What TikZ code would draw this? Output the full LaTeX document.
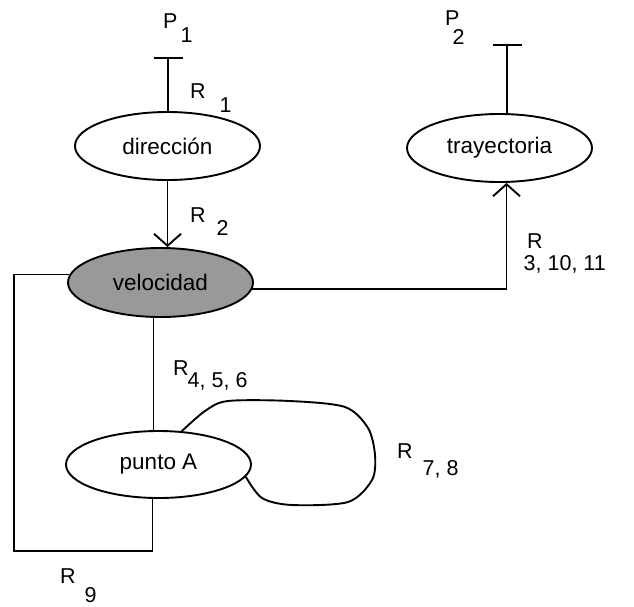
\documentclass[tikz,border=0pt]{standalone}
\usepackage{fontspec}
\setmainfont{Liberation Sans}
\usetikzlibrary{positioning, arrows.meta, shapes.geometric}
\definecolor{vcolor}{gray}{0.6}

\begin{document}
\begin{tikzpicture}[x=1pt, y=-1pt,
    state/.style={ellipse, draw, minimum width=185pt, minimum height=68pt, inner sep=0pt, font=\fontsize{22.5}{26}\selectfont, line width=1.9pt},
    arr/.style={-{Straight Barb[length=12pt, width=27pt]}, line width=1.9pt},
    line/.style={line width=1.9pt},
    bar/.style={{Bar[width=29pt]}-, line width=1.9pt},
    lbl/.style={anchor=base west, inner sep=0pt, font=\fontsize{21.5}{24}\selectfont},
  ]
    \useasboundingbox (0,0) rectangle (634,606);

    \node[state] (dir) at (167.5,146) {dirección};
    \node[state, fill=vcolor, minimum height=69pt] (vel) at (160.5,282.5) {velocidad};
    \node[state] (traj) at (499.5,148) {trayectoria};
    \node[state, minimum height=67pt] (ptA) at (158.5,464.5) {punto A};

    \coordinate (p1end) at (168,57);
    \coordinate (p2end) at (507,44);
    \coordinate (c9) at (14,551);

    \node[lbl] (p1) at (163,28) {P\hspace{3pt}\raisebox{-14pt}{1}};
    \node[lbl] (p2) at (445,25) {P\hspace{-7pt}\raisebox{-19pt}{2}};
    \node[lbl] (r1) at (190,98) {R\hspace{14pt}\raisebox{-14pt}{1}};
    \node[lbl] (r2) at (190,222) {R\hspace{11pt}\raisebox{-13pt}{2}};
    \node[lbl] (r3) at (527,248) {R\hspace{-19pt}\raisebox{-22pt}{3, 10, 11}};
    \node[lbl] (r4) at (173,375) {R\hspace{-1pt}\raisebox{-12pt}{4, 5, 6}};
    \node[lbl] (r7) at (397,458) {R\hspace{10pt}\raisebox{-17pt}{7, 8}};
    \node[lbl] (r9) at (60,583) {R\hspace{9pt}\raisebox{-19pt}{9}};

    \draw[bar] (p1end) -- (p1end |- dir.north);
    \draw[bar] (p2end) -- (p2end |- traj.north);
    \draw[arr] (dir.south) -- (dir.south |- vel.north);
    \draw[arr] (vel.-4) -| ([xshift=7pt]traj.south);
    \draw[line] ([xshift=-7pt]vel.south) -- ([xshift=-7pt]vel.south |- ptA.north);
    \draw[line] (vel.175) -| (c9) -| ([xshift=-6pt]ptA.south);
    \draw[line] plot[smooth] coordinates {(ptA.55) (205,411) (228,401) (290,401) (345,407) (368,428) (375,455) (372,480) (348,502) (292,505) (262,498) (ptA.-8)};
  \end{tikzpicture}
\end{document}
